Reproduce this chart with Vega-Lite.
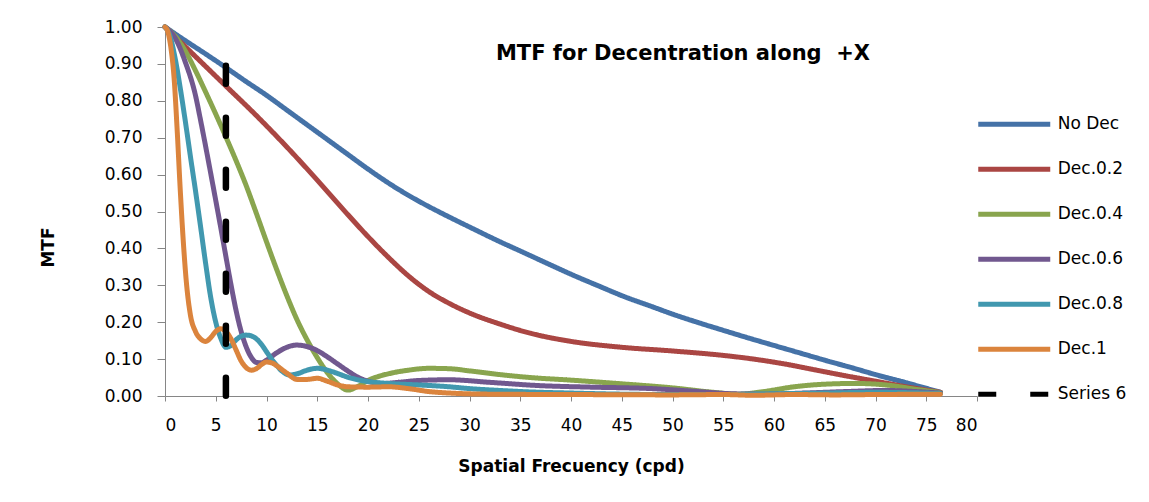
{
  "$schema": "https://vega.github.io/schema/vega-lite/v6.json",
  "width": 812,
  "height": 369,
  "autosize": {"type": "none"},
  "padding": {"left": 165, "top": 27, "right": 172, "bottom": 106},
  "background": "white",
  "config": {
    "view": {"stroke": null},
    "font": "DejaVu Sans",
    "axis": {
      "domainColor": "#868686", "domainWidth": 1, "tickColor": "#868686", "tickWidth": 1,
      "labelFont": "DejaVu Sans", "labelFontSize": 17, "labelColor": "black",
      "titleFont": "DejaVu Sans", "titleFontSize": 17, "titleFontWeight": "bold", "titleColor": "black",
      "grid": false
    },
    "legend": {
      "orient": "none", "legendX": 810.75, "legendY": 88.3, "padding": 0,
      "symbolType": "stroke", "symbolSize": 5184, "symbolStrokeWidth": 5,
      "clipHeight": 18, "rowPadding": 27, "labelOffset": 5,
      "labelFont": "DejaVu Sans", "labelFontSize": 17, "labelColor": "black"
    }
  },
  "title": {
    "text": "MTF for Decentration along \u00a0+X",
    "font": "DejaVu Sans", "fontSize": 21, "fontWeight": "bold", "color": "black",
    "anchor": "middle", "frame": "group", "baseline": "alphabetic", "dx": 112, "dy": 67
  },
  "data": {"values": [
    {"s":"No Dec","x":0,"y":1},{"s":"No Dec","x":2,"y":0.963},{"s":"No Dec","x":4,"y":0.927},{"s":"No Dec","x":6,"y":0.89},{"s":"No Dec","x":8,"y":0.852},{"s":"No Dec","x":10,"y":0.815},{"s":"No Dec","x":12,"y":0.775},{"s":"No Dec","x":15,"y":0.715},{"s":"No Dec","x":18,"y":0.655},{"s":"No Dec","x":20,"y":0.615},{"s":"No Dec","x":23,"y":0.56},{"s":"No Dec","x":25,"y":0.528},{"s":"No Dec","x":28,"y":0.485},{"s":"No Dec","x":30,"y":0.458},{"s":"No Dec","x":33,"y":0.418},{"s":"No Dec","x":35,"y":0.393},{"s":"No Dec","x":38,"y":0.355},{"s":"No Dec","x":40,"y":0.33},{"s":"No Dec","x":43,"y":0.295},{"s":"No Dec","x":45,"y":0.272},{"s":"No Dec","x":48,"y":0.242},{"s":"No Dec","x":50,"y":0.222},{"s":"No Dec","x":53,"y":0.195},{"s":"No Dec","x":55,"y":0.178},{"s":"No Dec","x":58,"y":0.153},{"s":"No Dec","x":60,"y":0.137},{"s":"No Dec","x":63,"y":0.113},{"s":"No Dec","x":65,"y":0.097},{"s":"No Dec","x":68,"y":0.074},{"s":"No Dec","x":70,"y":0.058},{"s":"No Dec","x":73,"y":0.036},{"s":"No Dec","x":76.4,"y":0.01},
    {"s":"Dec.0.2","x":0,"y":1},{"s":"Dec.0.2","x":3,"y":0.92},{"s":"Dec.0.2","x":6,"y":0.84},{"s":"Dec.0.2","x":9,"y":0.76},{"s":"Dec.0.2","x":12,"y":0.675},{"s":"Dec.0.2","x":15,"y":0.585},{"s":"Dec.0.2","x":18,"y":0.492},{"s":"Dec.0.2","x":20,"y":0.432},{"s":"Dec.0.2","x":22,"y":0.376},{"s":"Dec.0.2","x":24,"y":0.325},{"s":"Dec.0.2","x":26,"y":0.283},{"s":"Dec.0.2","x":28,"y":0.251},{"s":"Dec.0.2","x":30,"y":0.225},{"s":"Dec.0.2","x":33,"y":0.195},{"s":"Dec.0.2","x":36,"y":0.17},{"s":"Dec.0.2","x":40,"y":0.148},{"s":"Dec.0.2","x":45,"y":0.132},{"s":"Dec.0.2","x":50,"y":0.122},{"s":"Dec.0.2","x":55,"y":0.11},{"s":"Dec.0.2","x":58,"y":0.1},{"s":"Dec.0.2","x":61,"y":0.087},{"s":"Dec.0.2","x":64,"y":0.071},{"s":"Dec.0.2","x":67,"y":0.055},{"s":"Dec.0.2","x":70,"y":0.04},{"s":"Dec.0.2","x":73,"y":0.025},{"s":"Dec.0.2","x":76.4,"y":0.01},
    {"s":"Dec.0.4","x":0,"y":1},{"s":"Dec.0.4","x":1,"y":0.975},{"s":"Dec.0.4","x":2,"y":0.935},{"s":"Dec.0.4","x":3,"y":0.882},{"s":"Dec.0.4","x":4,"y":0.824},{"s":"Dec.0.4","x":5,"y":0.764},{"s":"Dec.0.4","x":6,"y":0.702},{"s":"Dec.0.4","x":7,"y":0.638},{"s":"Dec.0.4","x":8,"y":0.57},{"s":"Dec.0.4","x":9,"y":0.495},{"s":"Dec.0.4","x":10,"y":0.418},{"s":"Dec.0.4","x":11,"y":0.343},{"s":"Dec.0.4","x":12,"y":0.272},{"s":"Dec.0.4","x":13,"y":0.207},{"s":"Dec.0.4","x":14,"y":0.152},{"s":"Dec.0.4","x":15,"y":0.104},{"s":"Dec.0.4","x":16,"y":0.063},{"s":"Dec.0.4","x":17,"y":0.033},{"s":"Dec.0.4","x":18,"y":0.016},{"s":"Dec.0.4","x":19,"y":0.026},{"s":"Dec.0.4","x":20,"y":0.042},{"s":"Dec.0.4","x":22,"y":0.06},{"s":"Dec.0.4","x":24,"y":0.07},{"s":"Dec.0.4","x":26,"y":0.075},{"s":"Dec.0.4","x":28,"y":0.074},{"s":"Dec.0.4","x":30,"y":0.068},{"s":"Dec.0.4","x":33,"y":0.058},{"s":"Dec.0.4","x":36,"y":0.05},{"s":"Dec.0.4","x":40,"y":0.043},{"s":"Dec.0.4","x":45,"y":0.033},{"s":"Dec.0.4","x":50,"y":0.022},{"s":"Dec.0.4","x":54,"y":0.01},{"s":"Dec.0.4","x":56.5,"y":0.005},{"s":"Dec.0.4","x":59,"y":0.012},{"s":"Dec.0.4","x":62,"y":0.025},{"s":"Dec.0.4","x":65,"y":0.032},{"s":"Dec.0.4","x":68,"y":0.034},{"s":"Dec.0.4","x":71,"y":0.03},{"s":"Dec.0.4","x":74,"y":0.018},{"s":"Dec.0.4","x":76.4,"y":0.009},
    {"s":"Dec.0.6","x":0,"y":1},{"s":"Dec.0.6","x":1,"y":0.97},{"s":"Dec.0.6","x":2,"y":0.905},{"s":"Dec.0.6","x":3,"y":0.815},{"s":"Dec.0.6","x":3.5,"y":0.748},{"s":"Dec.0.6","x":4,"y":0.677},{"s":"Dec.0.6","x":4.5,"y":0.604},{"s":"Dec.0.6","x":5,"y":0.53},{"s":"Dec.0.6","x":5.5,"y":0.455},{"s":"Dec.0.6","x":6,"y":0.378},{"s":"Dec.0.6","x":6.5,"y":0.302},{"s":"Dec.0.6","x":7,"y":0.232},{"s":"Dec.0.6","x":7.5,"y":0.175},{"s":"Dec.0.6","x":8,"y":0.133},{"s":"Dec.0.6","x":8.5,"y":0.105},{"s":"Dec.0.6","x":9,"y":0.091},{"s":"Dec.0.6","x":9.5,"y":0.09},{"s":"Dec.0.6","x":10,"y":0.097},{"s":"Dec.0.6","x":11,"y":0.117},{"s":"Dec.0.6","x":12,"y":0.132},{"s":"Dec.0.6","x":13,"y":0.138},{"s":"Dec.0.6","x":14,"y":0.134},{"s":"Dec.0.6","x":15,"y":0.123},{"s":"Dec.0.6","x":16,"y":0.106},{"s":"Dec.0.6","x":17,"y":0.087},{"s":"Dec.0.6","x":18,"y":0.068},{"s":"Dec.0.6","x":19,"y":0.051},{"s":"Dec.0.6","x":20,"y":0.04},{"s":"Dec.0.6","x":21.5,"y":0.034},{"s":"Dec.0.6","x":23,"y":0.037},{"s":"Dec.0.6","x":25,"y":0.042},{"s":"Dec.0.6","x":28,"y":0.044},{"s":"Dec.0.6","x":32,"y":0.037},{"s":"Dec.0.6","x":37,"y":0.028},{"s":"Dec.0.6","x":42,"y":0.024},{"s":"Dec.0.6","x":48,"y":0.02},{"s":"Dec.0.6","x":52,"y":0.013},{"s":"Dec.0.6","x":56,"y":0.006},{"s":"Dec.0.6","x":59,"y":0.005},{"s":"Dec.0.6","x":63,"y":0.008},{"s":"Dec.0.6","x":67,"y":0.012},{"s":"Dec.0.6","x":71,"y":0.015},{"s":"Dec.0.6","x":74,"y":0.012},{"s":"Dec.0.6","x":76.4,"y":0.008},
    {"s":"Dec.0.8","x":0,"y":1},{"s":"Dec.0.8","x":0.5,"y":0.975},{"s":"Dec.0.8","x":1,"y":0.915},{"s":"Dec.0.8","x":1.5,"y":0.835},{"s":"Dec.0.8","x":2,"y":0.745},{"s":"Dec.0.8","x":2.5,"y":0.65},{"s":"Dec.0.8","x":3,"y":0.557},{"s":"Dec.0.8","x":3.5,"y":0.46},{"s":"Dec.0.8","x":4,"y":0.36},{"s":"Dec.0.8","x":4.5,"y":0.268},{"s":"Dec.0.8","x":5,"y":0.2},{"s":"Dec.0.8","x":5.5,"y":0.156},{"s":"Dec.0.8","x":6,"y":0.132},{"s":"Dec.0.8","x":6.5,"y":0.137},{"s":"Dec.0.8","x":7,"y":0.152},{"s":"Dec.0.8","x":7.5,"y":0.162},{"s":"Dec.0.8","x":8,"y":0.165},{"s":"Dec.0.8","x":8.5,"y":0.163},{"s":"Dec.0.8","x":9,"y":0.155},{"s":"Dec.0.8","x":9.5,"y":0.14},{"s":"Dec.0.8","x":10,"y":0.12},{"s":"Dec.0.8","x":10.5,"y":0.1},{"s":"Dec.0.8","x":11,"y":0.083},{"s":"Dec.0.8","x":11.5,"y":0.068},{"s":"Dec.0.8","x":12.3,"y":0.057},{"s":"Dec.0.8","x":13,"y":0.06},{"s":"Dec.0.8","x":14,"y":0.07},{"s":"Dec.0.8","x":15,"y":0.075},{"s":"Dec.0.8","x":16,"y":0.07},{"s":"Dec.0.8","x":17,"y":0.061},{"s":"Dec.0.8","x":18,"y":0.051},{"s":"Dec.0.8","x":20,"y":0.039},{"s":"Dec.0.8","x":22,"y":0.034},{"s":"Dec.0.8","x":25,"y":0.03},{"s":"Dec.0.8","x":28,"y":0.025},{"s":"Dec.0.8","x":30,"y":0.02},{"s":"Dec.0.8","x":33,"y":0.015},{"s":"Dec.0.8","x":36,"y":0.011},{"s":"Dec.0.8","x":40,"y":0.008},{"s":"Dec.0.8","x":45,"y":0.005},{"s":"Dec.0.8","x":50,"y":0.004},{"s":"Dec.0.8","x":55,"y":0.004},{"s":"Dec.0.8","x":60,"y":0.006},{"s":"Dec.0.8","x":65,"y":0.008},{"s":"Dec.0.8","x":70,"y":0.01},{"s":"Dec.0.8","x":76.4,"y":0.007},
    {"s":"Dec.1","x":0,"y":1},{"s":"Dec.1","x":0.3,"y":0.985},{"s":"Dec.1","x":0.6,"y":0.94},{"s":"Dec.1","x":0.9,"y":0.86},{"s":"Dec.1","x":1.2,"y":0.72},{"s":"Dec.1","x":1.5,"y":0.56},{"s":"Dec.1","x":1.8,"y":0.42},{"s":"Dec.1","x":2.1,"y":0.31},{"s":"Dec.1","x":2.5,"y":0.22},{"s":"Dec.1","x":3,"y":0.175},{"s":"Dec.1","x":3.5,"y":0.155},{"s":"Dec.1","x":4,"y":0.148},{"s":"Dec.1","x":4.5,"y":0.158},{"s":"Dec.1","x":5,"y":0.175},{"s":"Dec.1","x":5.5,"y":0.182},{"s":"Dec.1","x":6,"y":0.175},{"s":"Dec.1","x":6.5,"y":0.155},{"s":"Dec.1","x":7,"y":0.125},{"s":"Dec.1","x":7.5,"y":0.095},{"s":"Dec.1","x":8,"y":0.077},{"s":"Dec.1","x":8.5,"y":0.07},{"s":"Dec.1","x":9,"y":0.074},{"s":"Dec.1","x":9.5,"y":0.085},{"s":"Dec.1","x":10,"y":0.092},{"s":"Dec.1","x":10.5,"y":0.09},{"s":"Dec.1","x":11,"y":0.082},{"s":"Dec.1","x":12,"y":0.062},{"s":"Dec.1","x":13,"y":0.045},{"s":"Dec.1","x":14,"y":0.045},{"s":"Dec.1","x":15,"y":0.048},{"s":"Dec.1","x":16,"y":0.04},{"s":"Dec.1","x":17,"y":0.03},{"s":"Dec.1","x":18,"y":0.025},{"s":"Dec.1","x":20,"y":0.024},{"s":"Dec.1","x":22,"y":0.025},{"s":"Dec.1","x":24,"y":0.02},{"s":"Dec.1","x":26,"y":0.012},{"s":"Dec.1","x":28,"y":0.008},{"s":"Dec.1","x":32,"y":0.005},{"s":"Dec.1","x":40,"y":0.004},{"s":"Dec.1","x":50,"y":0.003},{"s":"Dec.1","x":55,"y":0.004},{"s":"Dec.1","x":58,"y":0.002},{"s":"Dec.1","x":62,"y":0.004},{"s":"Dec.1","x":66,"y":0.003},{"s":"Dec.1","x":70,"y":0.004},{"s":"Dec.1","x":76.4,"y":0.005},
    {"s":"Series 6","x":6,"y":0.895},{"s":"Series 6","x":6,"y":0}
  ]},
  "encoding": {
    "x": {"field": "x", "type": "quantitative",
      "scale": {"domain": [0, 80], "nice": false, "zero": false},
      "axis": {"values": [0,5,10,15,20,25,30,35,40,45,50,55,60,65,70,75,80], "format": "d",
        "tickSize": 5, "labelPadding": 16, "title": "Spatial Frecuency (cpd)",
        "titleBaseline": "middle", "titleY": 70}},
    "y": {"field": "y", "type": "quantitative",
      "scale": {"domain": [0, 1], "nice": false},
      "axis": {"values": [0,0.1,0.2,0.3,0.4,0.5,0.6,0.7,0.8,0.9,1], "format": ".2f",
        "tickSize": 8, "labelPadding": 15, "title": "MTF",
        "titleBaseline": "middle", "titleX": -117, "titleY": 220}},
    "color": {"field": "s", "type": "nominal",
      "scale": {"domain": ["No Dec","Dec.0.2","Dec.0.4","Dec.0.6","Dec.0.8","Dec.1","Series 6"],
        "range": ["#4572A7","#AA4643","#89A54E","#71588F","#4198AF","#DB843D","#000000"]},
      "legend": {"title": null}},
    "strokeDash": {"field": "s", "type": "nominal",
      "scale": {"domain": ["No Dec","Dec.0.2","Dec.0.4","Dec.0.6","Dec.0.8","Dec.1","Series 6"],
        "range": [[1,0],[1,0],[1,0],[1,0],[1,0],[1,0],[18,34]]},
      "legend": {"title": null}}
  },
  "layer": [
    {
      "transform": [{"filter": "datum.s !== 'Series 6'"}],
      "mark": {"type": "line", "interpolate": "monotone", "strokeWidth": 5, "strokeCap": "round", "strokeJoin": "round"}
    },
    {
      "transform": [{"filter": "datum.s === 'Series 6'"}],
      "mark": {"type": "line", "strokeWidth": 6.5, "strokeCap": "round"},
      "encoding": {"order": {"field": "y", "sort": "descending"}}
    }
  ]
}
